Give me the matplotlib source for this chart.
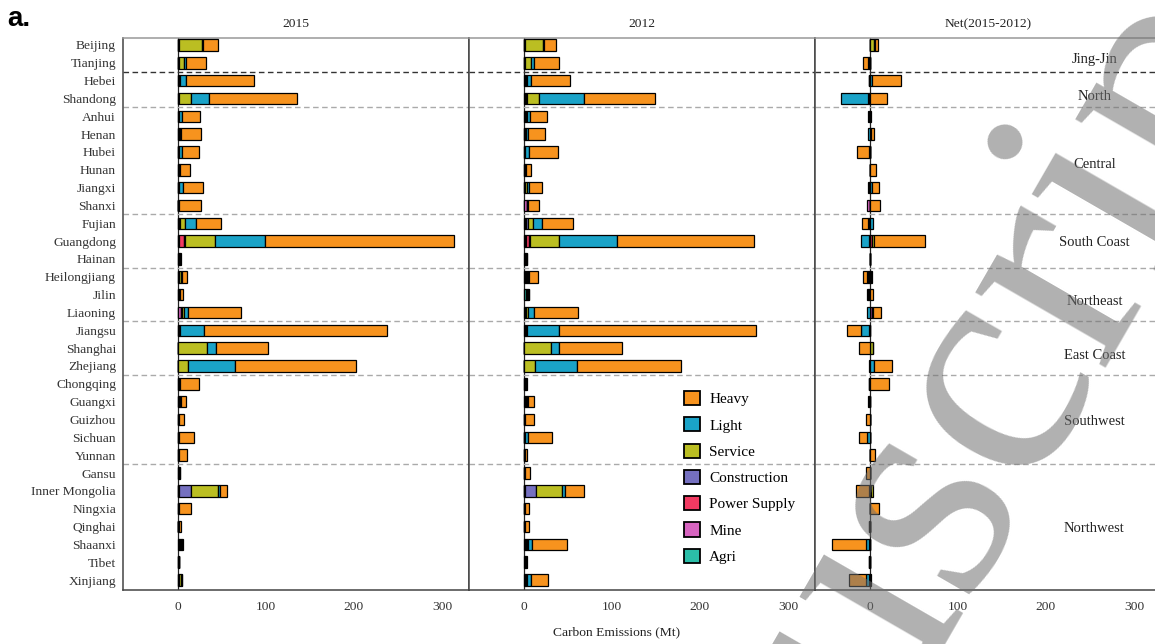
import numpy as np
import matplotlib.pyplot as plt
from matplotlib.patches import Patch

plt.rcParams['font.family'] = ['Liberation Serif', 'DejaVu Serif']

provinces = ['Beijing', 'Tianjing', 'Hebei', 'Shandong', 'Anhui', 'Henan', 'Hubei',
             'Hunan', 'Jiangxi', 'Shanxi', 'Fujian', 'Guangdong', 'Hainan',
             'Heilongjiang', 'Jilin', 'Liaoning', 'Jiangsu', 'Shanghai', 'Zhejiang',
             'Chongqing', 'Guangxi', 'Guizhou', 'Sichuan', 'Yunnan', 'Gansu',
             'Inner Mongolia', 'Ningxia', 'Qinghai', 'Shaanxi', 'Tibet', 'Xinjiang']

regions = ['Jing-Jin', 'North', 'Central', 'South Coast', 'Northeast',
           'East Coast', 'Southwest', 'Northwest']
region_pos = [0.8, 2.9, 6.7, 11.05, 14.4, 17.4, 21.1, 27.1]
region_breaks = [1.5, 3.5, 9.5, 12.5, 15.5, 18.5, 23.5]

sectors = ['Agri', 'Mine', 'Power Supply', 'Construction', 'Service', 'Light', 'Heavy']
colors = ['#2BBEA8', '#D764C0', '#F23A62', '#7570C0', '#BBBE22', '#1AA3C8', '#F7931E']

# Mt CO2, 2015
agri_2015 = [0.3, 0.2, 0.3, 0.5, 0.3, 0.5, 0.2, 0.3, 0.2, 0.1, 0.3, 0.3, 0.5, 0.3, 0.5, 0.3,
             0.3, 0.1, 0.1, 0.3, 0.5, 0.2, 0.2, 0.2, 0.3, 0.2, 0.2, 0.1, 0.6, 0.3, 0.5]
mine_2015 = [0.0, 0.0, 0.3, 0.3, 0.3, 0.5, 0.2, 0.3, 0.2, 0.1, 0.3, 0.3, 0.3, 0.3, 0.3, 3.2,
             0.3, 0.1, 0.1, 0.3, 0.5, 0.2, 0.2, 0.2, 0.3, 0.2, 0.2, 0.1, 0.6, 0.2, 0.3]
power_2015 = [0.3, 0.2, 0.3, 0.3, 0.3, 0.5, 0.2, 0.3, 0.2, 0.1, 0.3, 6.0, 0.3, 0.3, 0.3, 0.3,
              0.3, 0.1, 0.1, 0.3, 0.5, 0.2, 0.2, 0.2, 0.3, 0.2, 0.2, 0.1, 0.5, 0.2, 0.3]
construction_2015 = [0.3, 0.3, 0.3, 0.3, 0.3, 0.5, 0.2, 0.3, 0.2, 0.1, 1.5, 1.5, 0.3, 0.3, 0.3, 0.3,
                     0.5, 0.2, 0.1, 0.3, 0.5, 0.2, 0.2, 0.2, 0.3, 14.2, 0.2, 0.1, 0.5, 0.3, 0.3]
service_2015 = [26.0, 6.0, 0.8, 13.0, 0.5, 0.5, 0.3, 0.3, 0.5, 0.1, 5.5, 34.5, 0.5, 2.5, 0.3, 3.0,
                0.8, 33.0, 11.4, 0.3, 0.8, 0.2, 0.2, 0.2, 0.3, 31.2, 0.2, 0.1, 0.8, 0.3, 2.5]
light_2015 = [1.5, 2.5, 7.0, 21.0, 3.0, 0.5, 3.5, 0.5, 4.0, 0.2, 12.5, 56.5, 0.5, 1.0, 0.5, 4.5,
              27.5, 9.5, 52.5, 0.5, 1.0, 0.2, 0.5, 0.3, 0.3, 2.0, 0.3, 0.2, 1.5, 0.2, 0.5]
heavy_2015 = [16.5, 22.5, 77.0, 100.0, 20.0, 23.0, 19.0, 11.5, 23.0, 25.0, 29.0, 214.0, 0.8,
              5.5, 4.0, 59.5, 208.0, 59.0, 138.0, 22.0, 5.7, 5.5, 17.0, 8.5, 0.5, 7.2, 14.0,
              3.2, 1.5, 0.2, 0.5]

# Mt CO2, 2012
agri_2012 = [0.3, 0.3, 0.8, 1.0, 0.8, 0.5, 0.3, 0.5, 0.5, 0.2, 1.0, 1.0, 0.8, 1.5, 2.0, 0.8,
             1.0, 0.1, 0.1, 0.5, 1.0, 0.2, 0.2, 0.2, 0.2, 0.2, 0.2, 0.2, 1.5, 0.8, 1.0]
mine_2012 = [0.0, 0.0, 0.8, 0.8, 0.8, 0.3, 0.3, 0.5, 0.3, 3.5, 1.0, 0.8, 0.5, 1.0, 0.5, 0.5,
             0.8, 0.1, 0.1, 0.5, 0.8, 0.2, 0.2, 0.2, 0.2, 0.2, 0.2, 0.2, 0.5, 0.5, 0.8]
power_2012 = [0.3, 0.3, 0.5, 0.8, 0.5, 0.3, 0.2, 0.3, 0.3, 0.1, 0.5, 4.0, 0.3, 0.8, 0.5, 0.3,
              0.5, 0.1, 0.1, 0.5, 0.8, 0.2, 0.2, 0.2, 0.2, 0.2, 0.2, 0.2, 0.5, 0.5, 0.6]
construction_2012 = [0.3, 0.3, 0.5, 0.8, 0.5, 0.3, 0.2, 0.3, 0.3, 0.1, 2.5, 1.5, 0.3, 0.8, 0.5, 0.3,
                     0.5, 0.2, 0.1, 0.5, 0.8, 0.2, 0.2, 0.2, 0.2, 13.0, 0.2, 0.2, 0.5, 0.5, 0.6]
service_2012 = [21.0, 7.0, 0.5, 13.5, 0.5, 0.5, 0.3, 0.3, 2.5, 0.1, 5.7, 32.0, 0.5, 0.8, 0.8, 2.5,
                0.8, 30.0, 12.5, 0.5, 0.8, 0.2, 0.2, 0.2, 0.2, 29.5, 0.2, 0.2, 1.0, 0.3, 0.8]
light_2012 = [0.5, 3.5, 5.3, 51.0, 4.0, 2.5, 4.5, 0.3, 1.5, 0.2, 9.5, 66.0, 0.5, 0.5, 1.0, 7.0,
              36.5, 9.0, 47.5, 0.3, 0.8, 0.3, 3.5, 0.2, 0.3, 3.0, 0.3, 0.3, 5.3, 0.2, 3.8]
heavy_2012 = [13.5, 28.0, 43.5, 80.5, 18.5, 19.0, 33.0, 5.3, 14.8, 13.3, 35.0, 156.0, 0.5,
              10.0, 0.8, 50.0, 224.0, 71.6, 118.0, 0.3, 6.8, 9.5, 27.0, 2.5, 5.0, 22.0, 4.0,
              4.0, 40.0, 0.2, 19.7]

v2015 = np.array([agri_2015, mine_2015, power_2015, construction_2015,
                  service_2015, light_2015, heavy_2015])
v2012 = np.array([agri_2012, mine_2012, power_2012, construction_2012,
                  service_2012, light_2012, heavy_2012])
panels = [('2015', v2015), ('2012', v2012), ('Net(2015-2012)', v2015 - v2012)]

W, H = 1155, 644
fig = plt.figure(figsize=(W / 100, H / 100), dpi=100)
y = np.arange(len(provinces))
xlim = (-62.5, 330.7)

axes = []
for i, (title, vals) in enumerate(panels):
    ax = fig.add_axes([(123 + 346 * i) / W, 54 / H, 346 / W, 552 / H])
    axes.append(ax)
    ax.axvline(0, color='#222222', lw=0.9, zorder=1)
    pos = np.zeros(len(provinces))
    neg = np.zeros(len(provinces))
    for k in range(len(sectors)):
        v = vals[k]
        left = np.where(v >= 0, pos, neg)
        ax.barh(y, v, left=left, height=0.65, color=colors[k],
                edgecolor='black', linewidth=0.9, zorder=3)
        pos = pos + np.clip(v, 0, None)
        neg = neg + np.clip(v, None, 0)
    for j, b in enumerate(region_breaks):
        ax.axhline(b, color='#333333' if j == 0 else '#aaaaaa', lw=1.0,
                   ls=(0, (4, 2.5)), zorder=2)
    ax.set_xlim(*xlim)
    ax.set_ylim(len(provinces) - 0.44, -0.39)
    ax.set_xticks([0, 100, 200, 300])
    ax.set_yticks(y)
    ax.set_yticklabels(provinces if i == 0 else [])
    ax.tick_params(length=0, labelsize=9.7, labelcolor='#333333')
    ax.tick_params(axis='x', pad=8)
    ax.tick_params(axis='y', pad=5)
    for s in ['left', 'right', 'bottom']:
        ax.spines[s].set_color('#444444')
        ax.spines[s].set_linewidth(1.1)
    ax.spines['top'].set_color('#999999')
    ax.spines['top'].set_linewidth(1.1)
    ax.set_title(title, fontsize=9.7, color='#222222', pad=8)

for name, yy in zip(regions, region_pos):
    axes[2].text(255, yy, name, ha='center', va='center', fontsize=10.5, color='#222222')

handles = [Patch(facecolor=colors[k], edgecolor='black', linewidth=1.3, label=sectors[k])
           for k in range(len(sectors) - 1, -1, -1)]
axes[1].legend(handles=handles, loc='upper left', bbox_to_anchor=(684 / W, 1 - 391 / H),
               bbox_transform=fig.transFigure, frameon=False, fontsize=11,
               handlelength=1.05, handleheight=1.05, handletextpad=0.6,
               labelspacing=0.72, borderpad=0, borderaxespad=0)

fig.text(617 / W, 1 - 632 / H, 'Carbon Emissions (Mt)', ha='center', va='center',
         fontsize=9.7, color='#222222')
fig.text(7 / W, 1 - 19 / H, 'a.', ha='left', va='center', fontsize=20,
         fontweight='bold', family='Liberation Sans')

# journal watermark, runs off the right edge
fig.text(885 / W, 1 - 575 / H, 'Manuscript', rotation=60, fontsize=235,
         color='#707070', alpha=0.55, ha='center', va='center', zorder=10)

fig.savefig('out.png', dpi=100)
